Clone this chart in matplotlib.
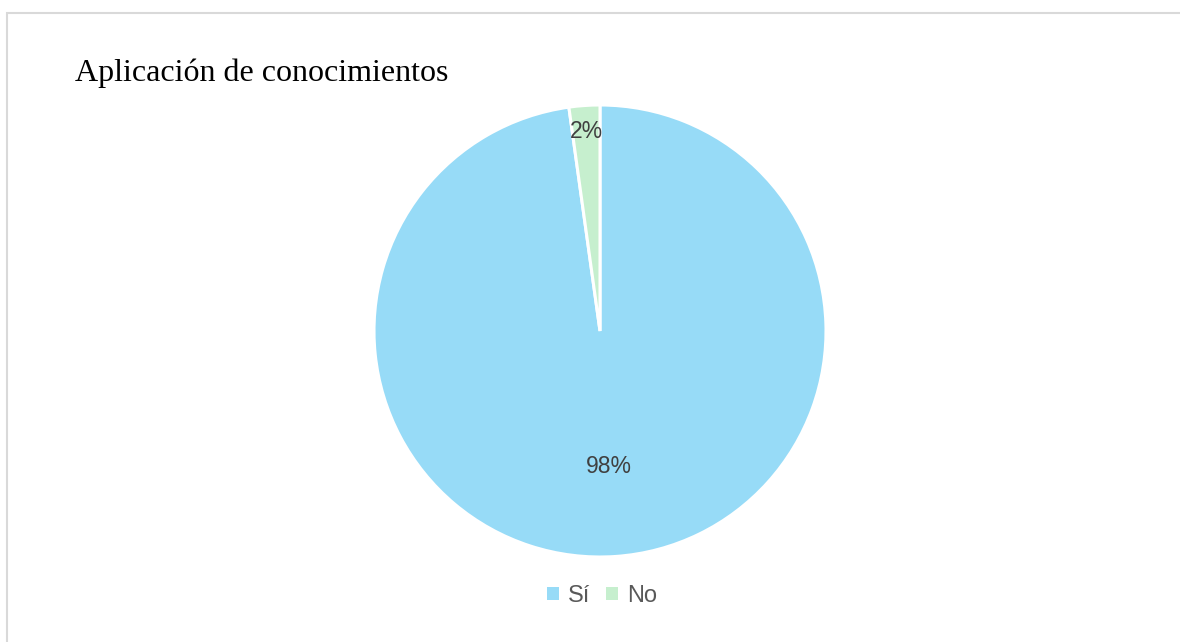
import numpy as np
import matplotlib.pyplot as plt
from matplotlib.patches import Rectangle

labels = ['Sí', 'No']
values = [97.8, 2.2]
colors = ['#97DBF7', '#C6EFCE']

fig = plt.figure(figsize=(11.8, 6.42), dpi=100)

# light grey frame (only top and left edges visible in the crop)
fig.patches.append(Rectangle((7 / 1180, -0.1), 1.2, (642 - 13) / 642 + 0.1,
                             transform=fig.transFigure, fill=False,
                             edgecolor='#D9D9D9', linewidth=1.5))

cx, cy, r = 600, 331, 226
ax = fig.add_axes([(cx - r) / 1180, (642 - cy - r) / 642, 2 * r / 1180, 2 * r / 642])

wedges, texts, autotexts = ax.pie(
    values,
    colors=colors,
    startangle=90,
    counterclock=False,
    autopct='%1.0f%%',
    pctdistance=0.6,
    radius=1,
    wedgeprops=dict(edgecolor='white', linewidth=2.2),
    textprops=dict(fontsize=16.5, color='#404040', family='Liberation Sans'),
)
ax.set_xlim(-1, 1)
ax.set_ylim(-1, 1)

# small slice label sits near the rim
x, y = autotexts[1].get_position()
autotexts[1].set_position((x * 0.885 / 0.6, y * 0.885 / 0.6))

fig.text(75 / 1180, 1 - 73 / 642, 'Aplicación de conocimientos',
         family='Liberation Serif', fontsize=23, va='center', ha='left')

leg = fig.legend(wedges, labels, loc='center', bbox_to_anchor=(602 / 1180, 1 - 596 / 642),
                 ncol=2, frameon=False, handlelength=0.5, handleheight=0.5,
                 handletextpad=0.4, columnspacing=0.65,
                 prop=dict(family='Liberation Sans', size=17))
for t in leg.get_texts():
    t.set_color('#595959')
for h in leg.legend_handles:
    h.set_edgecolor('none')

fig.savefig('out.png', dpi=100)
